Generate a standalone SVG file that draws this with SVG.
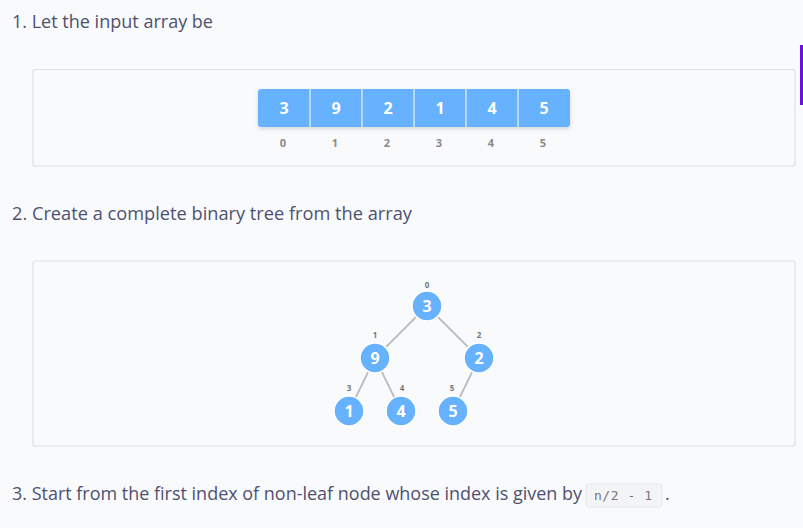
<svg xmlns="http://www.w3.org/2000/svg" width="803" height="528" viewBox="0 0 803 528">
<defs>
<style>
.body{font-family:"Open Sans","Liberation Sans",sans-serif;font-size:18px;fill:#4f5170}
.panel{fill:#f9fafc;stroke:#dcdfe4;stroke-width:1.2}
.cell{fill:#66b2ff}
.num{font-family:"Open Sans","Liberation Sans",sans-serif;font-weight:700;font-size:16px;fill:#fff;text-anchor:middle}
.idx{font-family:"Open Sans","Liberation Sans",sans-serif;font-weight:700;font-size:11px;fill:#8a8a8a;text-anchor:middle}
.tidx{font-family:"Open Sans","Liberation Sans",sans-serif;font-weight:700;font-size:8px;fill:#777;text-anchor:middle}
.node{fill:#66b2ff;stroke:#fff;stroke-width:1.5}
.edge{stroke:#bdbdbd;stroke-width:1.8}
.code{font-family:"DejaVu Sans Mono","Liberation Mono",monospace;font-size:13px;fill:#777}
</style>
<filter id="sh" x="-10%" y="-30%" width="120%" height="180%"><feDropShadow dx="0" dy="2" stdDeviation="2" flood-color="#000" flood-opacity="0.15"/></filter>
</defs>
<rect width="803" height="528" fill="#f9fafc"/>
<rect x="800" y="45" width="3" height="60" fill="#6a0fe0"/>

<text class="body" x="12" y="28" textLength="201" lengthAdjust="spacingAndGlyphs">1. Let the input array be</text>
<rect class="panel" x="33" y="69.5" width="762" height="96.5" rx="2"/>

<g id="array">
<rect class="cell" x="258" y="89" width="312" height="38" rx="3" filter="url(#sh)"/>
<g stroke="#fff" stroke-width="1">
<line x1="310" y1="89" x2="310" y2="127"/><line x1="362" y1="89" x2="362" y2="127"/><line x1="414" y1="89" x2="414" y2="127"/><line x1="466" y1="89" x2="466" y2="127"/><line x1="518" y1="89" x2="518" y2="127"/>
</g>
<text class="num" x="284" y="114">3</text><text class="num" x="336" y="114">9</text><text class="num" x="388" y="114">2</text><text class="num" x="440" y="114">1</text><text class="num" x="492" y="114">4</text><text class="num" x="544" y="114">5</text>
<text class="idx" x="283" y="147">0</text><text class="idx" x="335" y="147">1</text><text class="idx" x="387" y="147">2</text><text class="idx" x="439" y="147">3</text><text class="idx" x="491" y="147">4</text><text class="idx" x="543" y="147">5</text>
</g>

<text class="body" x="12" y="220" textLength="400" lengthAdjust="spacingAndGlyphs">2. Create a complete binary tree from the array</text>
<rect class="panel" x="33" y="261" width="762" height="185" rx="2"/>

<g id="edges">
<line class="edge" x1="427" y1="306" x2="375" y2="358"/>
<line class="edge" x1="427" y1="306" x2="479" y2="358"/>
<line class="edge" x1="375" y1="358" x2="349" y2="411"/>
<line class="edge" x1="375" y1="358" x2="401" y2="411"/>
<line class="edge" x1="479" y1="358" x2="453" y2="411"/>
</g>
<g id="n0"><circle class="node" cx="427" cy="306" r="15"/><text class="num" x="427" y="312">3</text><text class="tidx" x="427" y="288">0</text></g>
<g id="n1"><circle class="node" cx="375" cy="358" r="15"/><text class="num" x="375" y="364">9</text><text class="tidx" x="375" y="338">1</text></g>
<g id="n2"><circle class="node" cx="479" cy="358" r="15"/><text class="num" x="479" y="364">2</text><text class="tidx" x="479" y="338">2</text></g>
<g id="n3"><circle class="node" cx="349" cy="411" r="15"/><text class="num" x="349" y="417">1</text><text class="tidx" x="349" y="391">3</text></g>
<g id="n4"><circle class="node" cx="401" cy="411" r="15"/><text class="num" x="401" y="417">4</text><text class="tidx" x="402" y="391">4</text></g>
<g id="n5"><circle class="node" cx="453" cy="411" r="15"/><text class="num" x="453" y="417">5</text><text class="tidx" x="452" y="391">5</text></g>

<text class="body" x="12" y="500" textLength="570" lengthAdjust="spacingAndGlyphs">3. Start from the first index of non-leaf node whose index is given by</text>
<rect x="586" y="484" width="76" height="23" rx="3" fill="#f3f4f6" stroke="#e3e5e8"/>
<text class="code" x="594" y="500" textLength="58">n/2 - 1</text>
<text class="body" x="665" y="500">.</text>
</svg>
